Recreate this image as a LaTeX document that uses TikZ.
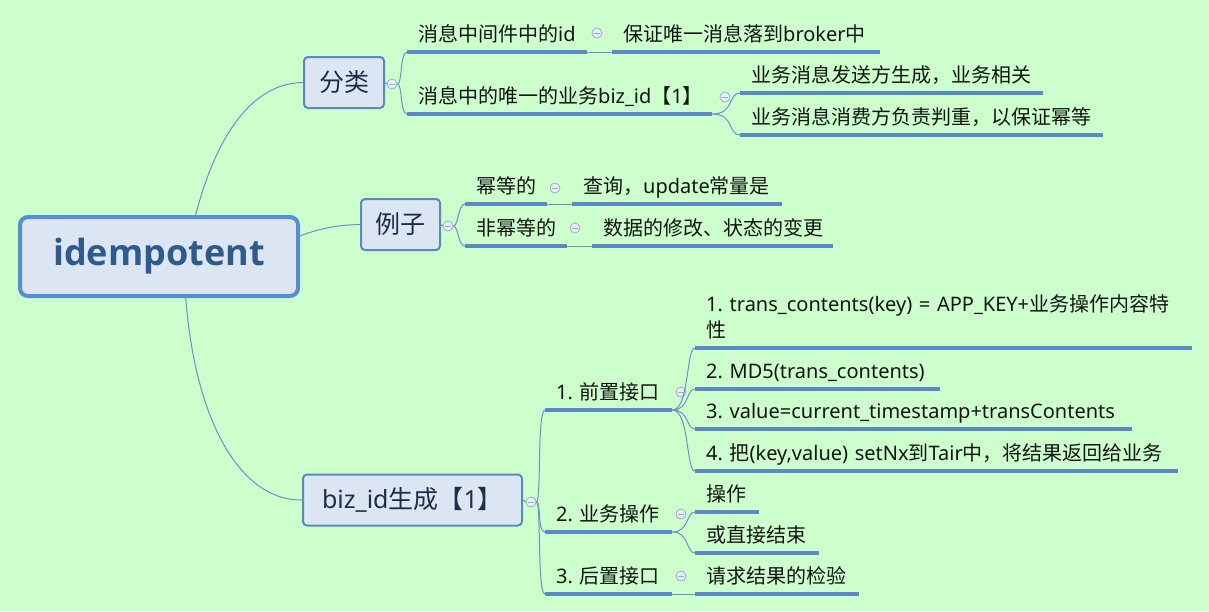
\documentclass[tikz,border=0pt]{standalone}
\usepackage{fontspec}
\setmainfont{Noto Sans}
\newfontfamily\cjk{Noto Sans CJK SC}
\newfontfamily\rootfont{Open Sans}
\newcommand\zh[1]{{\cjk #1}}
\frenchspacing
\usetikzlibrary{calc}
\definecolor{bgc}{HTML}{CCFFCC}
\definecolor{boxfill}{HTML}{DCE6F2}
\definecolor{rootline}{HTML}{558ED5}
\definecolor{roottext}{HTML}{2F5B8C}
\definecolor{boxline}{HTML}{5B87C2}
\definecolor{boxtext}{HTML}{1C2F47}
\definecolor{ulc}{HTML}{5A89C6}
\definecolor{connc}{HTML}{6A92C6}
\definecolor{mkline}{HTML}{9AACCB}
\definecolor{mkfill}{HTML}{E8EEF8}
\tikzset{
  rootbox/.style={draw=rootline, line width=4pt, fill=boxfill, rounded corners=8pt,
    minimum width=278pt, minimum height=79pt, inner sep=0pt,
    font=\rootfont\fontsize{36}{40}\selectfont\bfseries, text=roottext},
  lvlbox/.style={draw=boxline, line width=2pt, fill=boxfill, rounded corners=4pt,
    minimum height=51pt, inner sep=0pt, font=\fontsize{25}{30}\selectfont, text=boxtext},
  item/.style={anchor=south west, inner xsep=11pt, inner ysep=5pt, text height=15pt,
    text depth=5pt, align=left, font=\fontsize{20}{26}\selectfont, text=black!92},
  uline/.style={draw=ulc, line width=3.5pt},
  conn/.style={draw=connc, line width=1pt},
  marker/.style={circle, draw=mkline, fill=mkfill, line width=0.8pt, minimum size=10pt, inner sep=0pt,
    path picture={\draw[mkline, line width=0.9pt] ([xshift=-2.6pt]path picture bounding box.center) -- ([xshift=2.6pt]path picture bounding box.center);}}
}
\begin{document}
\begin{tikzpicture}[x=1pt,y=-1pt]
\fill[bgc] (0,0) rectangle (1209,611);
\useasboundingbox (0,0) rectangle (1209,611);

% root and level 1
\node[rootbox] (root) at (159,256.5) {idempotent};
\node[lvlbox, minimum width=80pt] (fl) at (344,82.5) {\zh{分类}};
\node[lvlbox, minimum width=79pt] (lz) at (400.5,224.5) {\zh{例子}};
\node[lvlbox, minimum width=219pt] (biz) at (412.5,500) {biz\_id\zh{生成【}1\zh{】}};

\draw[conn] ($(root.north west)!0.63!(root.north east)$) .. controls (215,140) and (250,83) .. (fl.west);
\draw[conn] ($(root.north east)!0.25!(root.south east)$) .. controls (322,228) and (338,225) .. (lz.west);
\draw[conn] ($(root.south west)!0.595!(root.south east)$) .. controls (195,420) and (240,501) .. (biz.west);

% markers
\node[marker] (mfl) at (392,84) {};
\node[marker] (mA) at (597,33) {};
\node[marker] (mB) at (725,97) {};
\node[marker] (mlz) at (448,226) {};
\node[marker] (mC) at (555,188) {};
\node[marker] (mD) at (575,228) {};
\node[marker] (mbiz) at (531,502) {};
\node[marker] (mE) at (681,392) {};
\node[marker] (mF) at (681,514) {};
\node[marker] (mG) at (681,576) {};

% 分类 children
\node[item, text width=158pt] (A) at (407,52) {\zh{消息中间件中的}id};
\node[item, text width=246pt] (A2) at (612,52) {\zh{保证唯一消息落到}broker\zh{中}};
\node[item, text width=283pt] (B) at (407,114) {\zh{消息中的唯一的业务}biz\_id\zh{【}1\zh{】}};
\node[item, text width=281pt] (B1) at (740,93) {\zh{业务消息发送方生成，业务相关}};
\node[item, text width=341pt] (B2) at (740,135) {\zh{业务消息消费方负责判重，以保证幂等}};

% 例子 children
\node[item, text width=60pt] (C) at (465,204) {\zh{幂等的}};
\node[item, text width=188pt] (C2) at (572,204) {\zh{查询，}update\zh{常量是}};
\node[item, text width=80pt] (D) at (465,246) {\zh{非幂等的}};
\node[item, text width=219pt] (D2) at (592,246) {\zh{数据的修改、状态的变更}};

% biz children
\node[item, text width=105pt] (E) at (545,410) {1.~\zh{前置接口}};
\node[item, text width=105pt] (F) at (545,532) {2.~\zh{业务操作}};
\node[item, text width=105pt] (G) at (545,594) {3.~\zh{后置接口}};
\node[item, text width=475pt, text depth=31.5pt] (E1) at (695,348) {1.~trans\_contents(key)~=~APP\_KEY+\zh{业务操作内容特}\\\zh{性}};
\node[item, text width=223pt] (E2) at (695,389) {2.~MD5(trans\_contents)};
\node[item, text width=415pt] (E3) at (695,429) {3.~value=current\_timestamp+transContents};
\node[item, text width=461pt] (E4) at (695,471) {4.~\zh{把}(key,value)~setNx\zh{到}Tair\zh{中，将结果返回给业务}};
\node[item, text width=42pt] (F1) at (695,512) {\zh{操作}};
\node[item, text width=102pt] (F2) at (695,553) {\zh{或直接结束}};
\node[item, text width=142pt] (G1) at (695,594) {\zh{请求结果的检验}};

% underlines
\foreach \n in {A,A2,B,B1,B2,C,C2,D,D2,E,F,G,E1,E2,E3,E4,F1,F2,G1}
  \draw[uline] (\n.south west) -- (\n.south east);

% connectors
\draw[conn] (fl.east) -- (mfl.west);
\draw[conn] (mfl.east) .. controls +(5,0) and +(-7,0) .. (A.south west);
\draw[conn] (mfl.east) .. controls +(5,0) and +(-7,0) .. (B.south west);
\draw[conn] (A.south east) -- (A2.south west);
\draw[conn] (B.south east) .. controls +(22,0) and +(-12,0) .. (B1.south west);
\draw[conn] (B.south east) .. controls +(22,0) and +(-12,0) .. (B2.south west);

\draw[conn] (lz.east) -- (mlz.west);
\draw[conn] (mlz.east) .. controls +(5,0) and +(-7,0) .. (C.south west);
\draw[conn] (mlz.east) .. controls +(5,0) and +(-7,0) .. (D.south west);
\draw[conn] (C.south east) -- (C2.south west);
\draw[conn] (D.south east) -- (D2.south west);

\draw[conn] (biz.east) -- (mbiz.west);
\draw[conn] (mbiz.east) .. controls +(5,0) and +(-8,0) .. (E.south west);
\draw[conn] (mbiz.east) .. controls +(5,0) and +(-8,0) .. (F.south west);
\draw[conn] (mbiz.east) .. controls +(5,0) and +(-8,0) .. (G.south west);

\foreach \c in {E1,E2,E3,E4}
  \draw[conn] (E.south east) .. controls +(17,0) and +(-9,0) .. (\c.south west);
\foreach \c in {F1,F2}
  \draw[conn] (F.south east) .. controls +(17,0) and +(-9,0) .. (\c.south west);
\draw[conn] (G.south east) -- (G1.south west);
\end{tikzpicture}
\end{document}
